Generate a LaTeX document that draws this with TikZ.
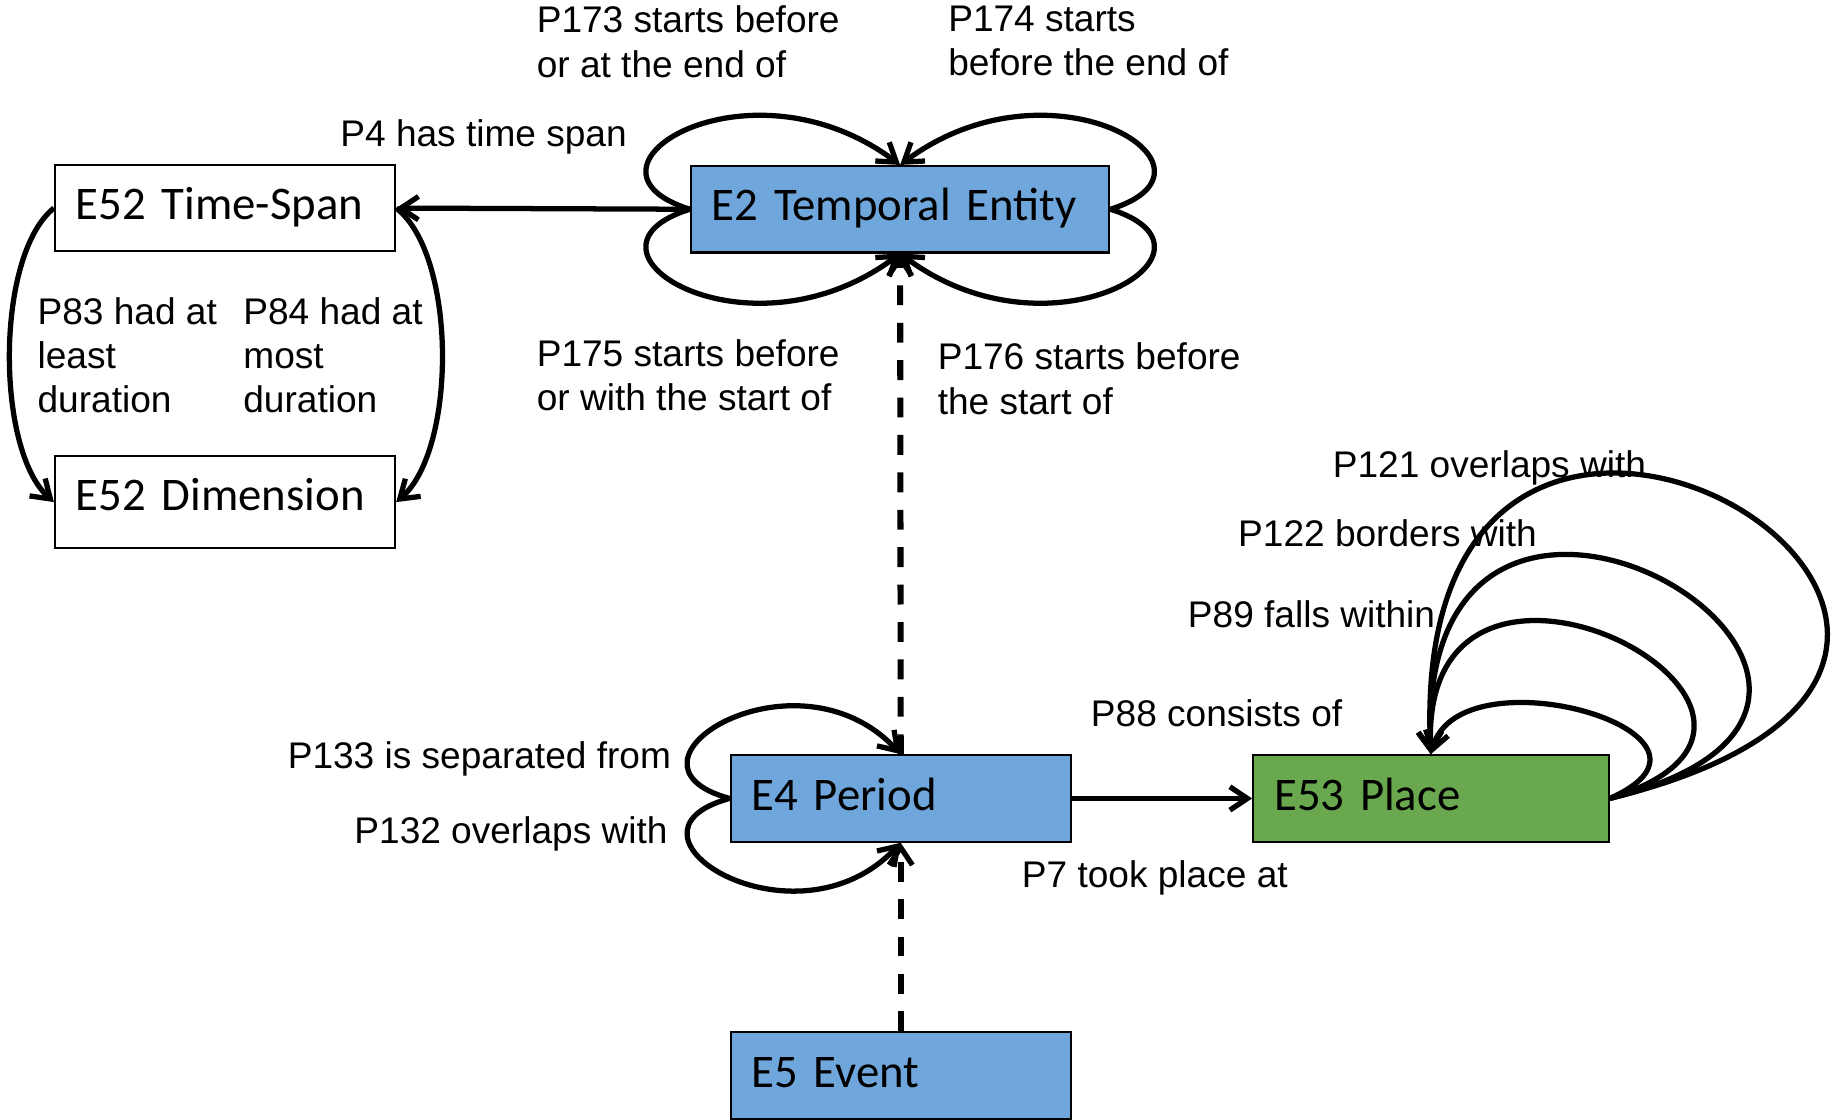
\documentclass[tikz,border=0pt]{standalone}
\usepackage{fontspec}
\setmainfont{Liberation Sans}
\newfontfamily\boxfont{Carlito}
\usetikzlibrary{arrows.meta}
\definecolor{entblue}{RGB}{111,167,220}
\definecolor{placegreen}{RGB}{106,168,79}
\begin{document}
\begin{tikzpicture}[x=1pt,y=-1pt,
  ent/.style={draw=black, line width=1.8pt, rectangle, minimum height=74pt, inner xsep=18pt, inner ysep=0pt, text width=#1, text height=30pt, text depth=10pt, align=left, font=\boxfont\fontsize{40}{48}\selectfont},
  lbl/.style={anchor=north west, inner sep=0pt, align=left, font=\fontsize{31.7}{38}\selectfont},
  rel/.style={line width=4.5pt, -{Straight Barb[length=15pt,width=20pt]}},
  sub/.style={line width=5.2pt, dash pattern=on 17pt off 15pt, -{Straight Barb[length=15pt,width=20pt,line width=4.5pt]}},
]
\useasboundingbox (0,0) rectangle (1568,958);

% entity boxes
\node[ent=255pt, fill=white] (ts) at (192.5,178) {E52 Time-Span};
\node[ent=255pt, fill=white, minimum height=79pt, text depth=16pt] (dim) at (192.5,429.5) {E52 Dimension};
\node[ent=322pt, fill=entblue] (te) at (770,179) {E2 Temporal Entity};
\node[ent=255pt, fill=entblue] (per) at (770.5,683) {E4 Period};
\node[ent=268pt, fill=placegreen] (pl) at (1224,683) {E53 Place};
\node[ent=255pt, fill=entblue] (ev) at (770.5,920) {E5 Event};

% connectors
\draw[rel] (te.west) -- (ts.east);
\draw[rel] (ts.west) .. controls +(-50,40) and +(-50,-45) .. (dim.west);
\draw[rel] (ts.east) .. controls +(52,40) and +(52,-45) .. (dim.east);

\draw[rel] (te.west) .. controls +(-112,-35) and +(-130,-97) .. (te.north);
\draw[rel] (te.east) .. controls +(112,-35) and +(130,-97) .. (te.north);
\draw[rel] (te.west) .. controls +(-112,35) and +(-130,97) .. (te.south);
\draw[rel] (te.east) .. controls +(112,35) and +(130,97) .. (te.south);

\draw[sub] (per.north) -- (te.south);
\draw[sub] (ev.north) -- (per.south);

\draw[rel] (per.west) .. controls +(-110,-30) and +(-90,-96) .. (per.north);
\draw[rel] (per.west) .. controls +(-110,30) and +(-90,96) .. (per.south);

\draw[rel] (per.east) -- (pl.west);

\draw[rel] (pl.east) .. controls +(504,-123) and +(-24,-496) .. (pl.north);
\draw[rel] (pl.east) .. controls +(345,-84) and +(-16,-360) .. (pl.north);
\draw[rel] (pl.east) .. controls +(230,-70) and +(-10,-240) .. (pl.north);
\draw[rel] (pl.east) .. controls +(125,-55) and +(25,-90) .. (pl.north);

% labels
\node[lbl] (l173) at (459,5) {P173 starts before\\or at the end of};
\node[lbl] (l174) at (811,5) {P174 starts\\before the end of};
\node[lbl] (l4) at (291,102) {P4 has time span};
\node[lbl] (l83) at (32,254) {P83 had at\\least\\duration};
\node[lbl] (l84) at (208,254) {P84 had at\\most\\duration};
\node[lbl] (l175) at (459,290) {P175 starts before\\or with the start of};
\node[lbl] (l176) at (802,293) {P176 starts before\\the start of};
\node[lbl] (l121) at (1140,385) {P121 overlaps with};
\node[lbl] (l122) at (1059,444) {P122 borders with};
\node[lbl] (l89) at (1016,514) {P89 falls within};
\node[lbl] (l88) at (933,598) {P88 consists of};
\node[lbl] (l133) at (246,634) {P133 is separated from};
\node[lbl] (l132) at (303,698) {P132 overlaps with};
\node[lbl] (l7) at (874,736) {P7 took place at};
\end{tikzpicture}
\end{document}
